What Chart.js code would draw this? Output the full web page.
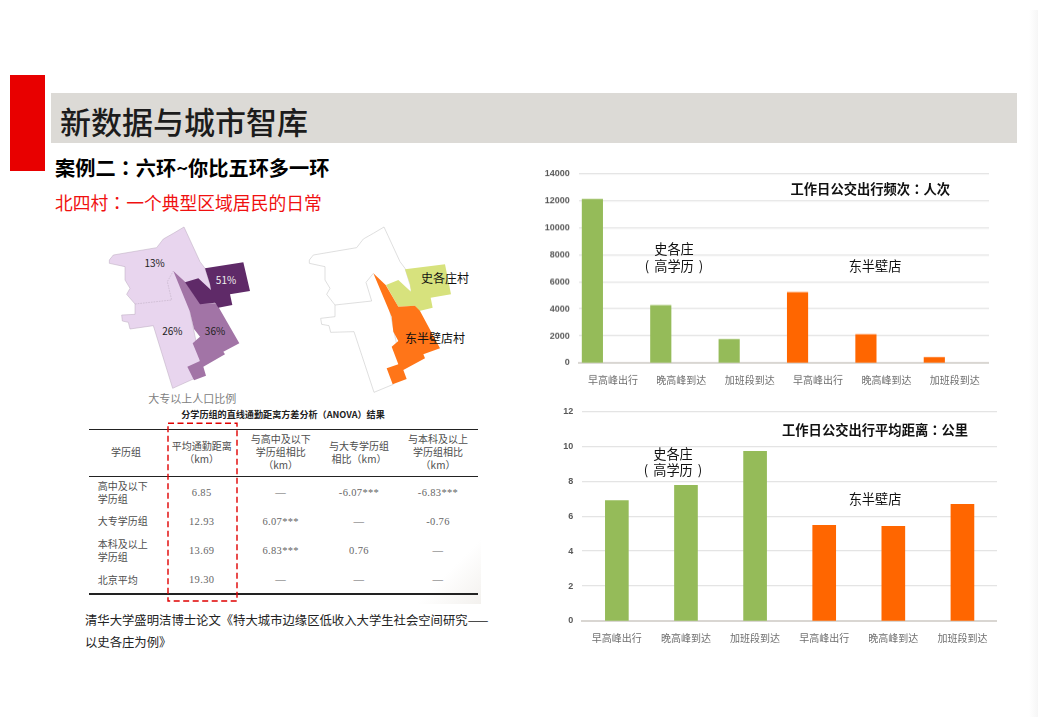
<!DOCTYPE html>
<html>
<head>
<meta charset="utf-8">
<style>
html, body { margin: 0; padding: 0; background: #fff; }
#page { position: relative; width: 1038px; height: 717px; overflow: hidden; font-family: "Noto Sans CJK SC", sans-serif; color: #111; }
#page canvas { position: absolute; }
.box { position: absolute; }
.t { position: absolute; white-space: nowrap; line-height: 1; transform: translateY(-50%); margin-top: -.5px; }
.c { transform: translate(-50%, -50%); }
.cc { font-family: "Noto Sans CJK TC", sans-serif; }
.note { font-size: 13.2px; color: #111; }
.head { font-size: 13.3px; font-weight: 700; color: #111; }
.cell { font-size: 10px; color: #4d4d4d; }
.num { font-family: "Liberation Serif", serif; font-size: 10.5px; letter-spacing: .35px; color: #666; margin-top: 0; }
.rule { position: absolute; left: 89px; width: 389px; background: #222; }
</style>
</head>
<body>
<div id="page">
  <div class="box" style="left:1029px;top:10px;width:9px;height:707px;background:linear-gradient(90deg,#fff,#f6f6f6)"></div>
  <div class="box" style="left:10px;top:75px;width:35px;height:96px;background:#e80000"></div>
  <div class="box" style="left:51px;top:93px;width:966px;height:50px;background:#dcdad6"></div>
  <div class="t" style="left:60px;top:120px;font-size:31px;font-weight:500;color:#1c1c1c">新数据与城市智库</div>
  <div class="t" style="left:55px;top:168px;font-size:20.2px;font-weight:700;color:#000">案例二<span class="cc">：</span>六环~你比五环多一环</div>
  <div class="t" style="left:55px;top:203px;font-size:17.8px;color:#f01010">北四村<span class="cc">：</span>一个典型区域居民的日常</div>

  <svg class="box" style="left:90px;top:225px;overflow:visible" width="410" height="185" viewBox="0 -30 1230 555">
    <polygon fill="#e8d5ee" stroke="#b9a8bd" stroke-width="1.5" points="58,75 70,60 200,38 220,12 250,-5 282,-24 330,80 345,100 365,165 300,230 330,378 310,432 248,460 190,272 120,282 115,262 97,258 95,240 135,238 135,207 110,178 120,160 105,135 105,95 58,85"/>
    <polyline fill="none" stroke="#b9a8bd" stroke-width="1.5" stroke-dasharray="5 3" points="135,207 245,195 232,140 250,108"/>
    <polygon fill="#a274a6" points="250,108 285,140 330,205 375,205 385,215 448,325 400,350 405,358 340,395 348,422 312,436 292,395 330,378 308,325 330,305 312,282 300,230"/>
    <polygon fill="#5f2a68" points="345,100 460,82 480,168 420,178 427,210 385,218 375,203 330,208 285,142 325,130 363,165 360,148"/>
    <text x="194" y="97" font-size="30" text-anchor="middle" fill="#222">13%</text>
    <text x="408" y="148" font-size="30" text-anchor="middle" fill="#eee">51%</text>
    <text x="247" y="301" font-size="30" text-anchor="middle" fill="#222">26%</text>
    <text x="375" y="301" font-size="30" text-anchor="middle" fill="#222">36%</text>

    <polygon fill="#fff" stroke="#cfcfcf" stroke-width="2" points="658,75 670,60 800,38 820,12 850,-5 882,-24 930,80 945,100 965,165 900,230 930,378 910,448 852,472 792,290 722,292 717,272 695,268 692,250 735,245 735,210 710,178 720,160 705,135 705,95 658,85"/>
    <polyline fill="none" stroke="#cfcfcf" stroke-width="2" points="735,210 845,198 828,142 850,115"/>
    <polygon fill="#d7e27d" points="945,103 1065,88 1083,178 1022,188 1028,218 988,228 975,212 925,215 888,150 925,135 963,170 960,148"/>
    <polygon fill="#ff7518" points="850,115 887,150 925,215 975,212 990,228 1050,340 1000,358 1005,370 940,405 950,432 908,448 890,400 925,388 905,335 925,318 910,290 905,245"/>
    <text x="1065" y="143" font-size="36" text-anchor="middle" fill="#111">史各庄村</text>
    <text x="1035" y="324" font-size="36" text-anchor="middle" fill="#111">东半壁店村</text>
    <text x="307" y="503" font-size="33" text-anchor="middle" fill="#808080">大专以上人口比例</text>
  </svg>

  <div class="box" style="left:400px;top:540px;width:81px;height:64px;background:linear-gradient(135deg,#fff 55%,#f3f1ee)"></div>
  <div id="table"></div>
  <div class="t c" style="left:283px;top:415px;font-size:9.1px;font-weight:700;color:#222">分学历组的直线通勤距离方差分析（ANOVA）结果</div>
  <div class="rule" style="top:429px;height:1.3px"></div>
  <div class="rule" style="top:475.5px;height:1.5px"></div>
  <div class="rule" style="top:593px;height:1.5px"></div>
  <svg class="box" style="left:160px;top:415px" width="90" height="195">
    <rect x="8" y="8.3" width="69" height="177.7" fill="none" stroke="#e00000" stroke-width="1.4" stroke-dasharray="6 3.5"/>
  </svg>

  <div class="t" style="left:85px;top:620px;font-size:12.35px;color:#222">清华大学盛明洁博士论文《特大城市边缘区低收入大学生社会空间研究——</div>
  <div class="t" style="left:85px;top:642px;font-size:12.35px;color:#222">以史各庄为例》</div>

  <canvas id="freqChart" style="left:535px;top:159px;width:454px;height:234.5px"></canvas>
  <canvas id="distChart" style="left:535px;top:396.5px;width:462px;height:255.2px"></canvas>

  <div class="t head" style="left:790.5px;top:189px">工作日公交出行频次<span class="cc">：</span>人次</div>
  <div class="t c note" style="left:674px;top:249.5px">史各庄</div>
  <div class="t c note" style="left:674px;top:266px;word-spacing:2px">( 高学历 )</div>
  <div class="t c note" style="left:875px;top:266px">东半壁店</div>

  <div class="t head" style="left:782px;top:430px">工作日公交出行平均距离<span class="cc">：</span>公里</div>
  <div class="t c note" style="left:673px;top:454.5px">史各庄</div>
  <div class="t c note" style="left:673px;top:470.5px;word-spacing:2px">( 高学历 )</div>
  <div class="t c note" style="left:875px;top:499.5px">东半壁店</div>
</div>

<script src="https://cdn.jsdelivr.net/npm/chart.js"></script>
<script>
const categories = ["早高峰出行", "晚高峰到达", "加班段到达", "早高峰出行", "晚高峰到达", "加班段到达"];
const freqValues = [12100, 4250, 1730, 5210, 2100, 395];
const distValues = [6.9, 7.77, 9.71, 5.48, 5.42, 6.68];
const barColors = ["#95bb59", "#95bb59", "#95bb59", "#ff6600", "#ff6600", "#ff6600"];

const tableColumns = [126, 201.7, 280.7, 359, 438];
const rowNames = [["高中及以下", "学历组"], ["大专学历组"], ["本科及以上", "学历组"], ["北京平均"]];
const meanDistance = ["6.85", "12.93", "13.69", "19.30"];
const vsHighSchool = ["—", "6.07***", "6.83***", "—"];
const vsCollege = ["-6.07***", "—", "0.76", "—"];
const vsBachelor = ["-6.83***", "-0.76", "—", "—"];
const rowY = [492.5, 521.7, 551, 580];

function addText(text, x, y, cls, center) {
    const el = document.createElement("div");
    el.className = "t " + cls + (center ? " c" : "");
    el.style.left = x + "px";
    el.style.top = y + "px";
    el.textContent = text;
    document.getElementById("table").appendChild(el);
}

// table header
addText("学历组", tableColumns[0], 452.3, "cell", true);
addText("平均通勤距离", tableColumns[1], 446.7, "cell", true);
addText("（km）", tableColumns[1], 459.3, "cell", true);
addText("与高中及以下", tableColumns[2], 439.3, "cell", true);
addText("学历组相比", tableColumns[2], 452.3, "cell", true);
addText("（km）", tableColumns[2], 465.7, "cell", true);
addText("与大专学历组", tableColumns[3], 446.7, "cell", true);
addText("相比（km）", tableColumns[3], 459.3, "cell", true);
addText("与本科及以上", tableColumns[4], 439.3, "cell", true);
addText("学历组相比", tableColumns[4], 452.3, "cell", true);
addText("（km）", tableColumns[4], 465.7, "cell", true);

// table rows
rowNames.forEach((lines, i) => {
    if (lines.length === 2) {
        addText(lines[0], 97.7, rowY[i] - 6.5, "cell", false);
        addText(lines[1], 97.7, rowY[i] + 6.8, "cell", false);
    } else {
        addText(lines[0], 97.7, rowY[i], "cell", false);
    }
    addText(meanDistance[i], tableColumns[1], rowY[i], "num", true);
    addText(vsHighSchool[i], tableColumns[2], rowY[i], "num", true);
    addText(vsCollege[i], tableColumns[3], rowY[i], "num", true);
    addText(vsBachelor[i], tableColumns[4], rowY[i], "num", true);
});

function baseOptions(maxY, stepY, axisWidth) {
    return {
        responsive: false,
        animation: false,
        layout: { padding: 0 },
        plugins: { legend: { display: false }, tooltip: { enabled: false } },
        scales: {
            x: {
                grid: { display: false },
                border: { color: "#d9d6d2", width: 2 },
                ticks: {
                    color: "#6f6f6f",
                    font: { family: "Noto Sans CJK SC", size: 10 },
                    padding: 3,
                    autoSkip: false,
                    maxRotation: 0
                },
                afterFit: scale => { scale.height = 31; }
            },
            y: {
                min: 0,
                max: maxY,
                grid: { color: "#e4e4e4", lineWidth: 1.3, drawTicks: false },
                border: { display: false },
                ticks: {
                    stepSize: stepY,
                    color: "#595959",
                    font: { family: "Liberation Sans", size: 9, weight: "bold" },
                    padding: 9,
                    callback: value => String(value)
                },
                afterFit: scale => { scale.width = axisWidth; }
            }
        }
    };
}

// upper chart: bars sit left of the tick, the source has empty series beside them
new Chart(document.getElementById("freqChart"), {
    type: "bar",
    data: {
        labels: categories,
        datasets: [
            { label: "工作日公交出行频次", data: freqValues, backgroundColor: barColors, barThickness: 20.5 },
            { label: "", data: [], barThickness: 20.5 },
            { label: "", data: [], barThickness: 20.5 }
        ]
    },
    options: Object.assign(baseOptions(14000, 2000, 43.7), { datasets: { bar: { categoryPercentage: 0.854 } } })
});

new Chart(document.getElementById("distChart"), {
    type: "bar",
    data: {
        labels: categories,
        datasets: [
            { label: "工作日公交出行平均距离", data: distValues, backgroundColor: barColors, barThickness: 23 }
        ]
    },
    options: baseOptions(12, 2, 47.3)
});
</script>
</body>
</html>
